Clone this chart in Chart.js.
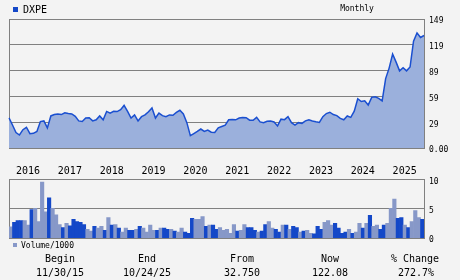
<!DOCTYPE html>
<html>
<head>
<meta charset="utf-8">
<script src="https://cdn.jsdelivr.net/npm/chart.js@4.4.0/dist/chart.umd.min.js"></script>
<style>
  html, body { margin: 0; padding: 0; background: #f3f3f3; }
  #wrap { position: relative; width: 460px; height: 280px; overflow: hidden;
          font-family: "DejaVu Sans Mono", monospace; color: #000; }
  canvas { position: absolute; left: 0; }
  .t { position: absolute; white-space: nowrap; }
  .t10 { font-size: 10px; line-height: 10px; }
  .t8  { font-size: 8px;  line-height: 8px; }
  .c { transform: translateX(-50%); }
  .sq { position: absolute; }
</style>
</head>
<body>
<div id="wrap">
  <canvas id="priceChart" width="460" height="180" style="top:0"></canvas>
  <canvas id="volumeChart" width="460" height="80" style="top:170px"></canvas>

  <div class="sq" style="left:13px;top:7px;width:5px;height:5px;background:#1448c8"></div>
  <div class="t t10" style="left:23px;top:4.5px">DXPE</div>
  <div class="t t8 c" style="left:357px;top:5.2px">Monthly</div>

  <div class="sq" style="left:13px;top:243px;width:4px;height:4px;background:#8798c8"></div>
  <div class="t t8" style="left:21px;top:241.5px">Volume/1000</div>

  <div class="t t10 c" style="left:60px;top:254.2px">Begin</div>
  <div class="t t10 c" style="left:147px;top:254.2px">End</div>
  <div class="t t10 c" style="left:242px;top:254.2px">From</div>
  <div class="t t10 c" style="left:330px;top:254.2px">Now</div>
  <div class="t t10 c" style="left:415px;top:254.2px">% Change</div>
  <div class="t t10 c" style="left:60px;top:268.2px">11/30/15</div>
  <div class="t t10 c" style="left:147px;top:268.2px">10/24/25</div>
  <div class="t t10 c" style="left:242px;top:268.2px">32.750</div>
  <div class="t t10 c" style="left:330px;top:268.2px">122.08</div>
  <div class="t t10 c" style="left:416px;top:268.2px">272.7%</div>
</div>

<script>
// ── Data ─────────────────────────────────────────
// monthly closes, Nov 2015 .. Oct 2025
const priceValues = [
  32.75, 25.0, 16.8, 14.1, 19.9, 22.5, 15.5, 15.9, 18.0, 28.7,
  29.4, 21.8, 34.8, 36.3, 37.0, 36.3, 38.2, 37.4, 37.0, 34.4,
  29.4, 28.7, 32.5, 32.8, 29.4, 30.6, 34.8, 30.6, 39.7, 37.8,
  39.8, 39.5, 41.6, 46.2, 39.7, 32.5, 35.9, 29.4, 34.0, 35.9,
  39.3, 43.5, 32.5, 37.8, 35.1, 34.0, 35.9, 35.5, 38.6, 40.9,
  37.0, 27.5, 13.4, 15.7, 18.0, 20.6, 18.0, 19.5, 17.2, 16.8,
  21.8, 23.3, 24.8, 30.6, 31.0, 30.6, 32.5, 33.2, 32.9, 30.2,
  30.0, 33.2, 28.3, 27.5, 29.0, 29.3, 28.3, 24.0, 31.3, 30.8,
  34.0, 27.5, 24.8, 27.5, 26.7, 29.4, 30.6, 29.4, 28.5, 27.8,
  34.0, 37.4, 38.8, 36.3, 35.1, 32.1, 30.6, 34.8, 33.2, 40.0,
  53.5, 50.4, 51.2, 46.6, 55.0, 55.5, 53.9, 51.2, 75.3, 86.7,
  102.0, 93.2, 83.7, 87.1, 83.7, 87.9, 116.0, 124.9, 120.0, 122.08
];

// volume (thousands), one bar per month Nov 2015 .. Sep 2025
const volumeValues = [
  1.9, 2.7, 3.0, 3.0, 3.0, 2.2, 4.9, 5.1, 2.8, 9.6,
  4.5, 6.9, 5.1, 4.0, 2.3, 1.8, 2.5, 2.1, 3.2, 2.8,
  2.7, 2.3, 1.5, 1.2, 2.0, 1.7, 2.0, 1.3, 3.5, 2.2,
  2.3, 1.7, 1.0, 1.7, 1.3, 1.3, 1.5, 2.0, 1.7, 1.0,
  2.2, 1.3, 1.3, 1.7, 1.7, 1.5, 1.5, 1.2, 1.0, 1.7,
  1.0, 0.8, 3.4, 3.2, 3.2, 3.7, 2.0, 2.2, 2.2, 1.5,
  1.8, 1.3, 1.5, 0.8, 2.3, 1.2, 1.3, 2.3, 1.8, 1.8,
  1.3, 1.0, 1.2, 2.3, 2.8, 1.7, 1.5, 1.0, 2.2, 2.2,
  1.5, 2.0, 1.8, 1.0, 1.2, 1.3, 0.8, 0.7, 2.0, 1.5,
  2.7, 3.0, 2.2, 2.5, 1.7, 0.8, 1.0, 1.5, 0.8, 1.0,
  2.5, 1.7, 2.5, 3.9, 2.0, 2.2, 1.5, 2.2, 2.5, 5.1,
  6.7, 3.4, 3.5, 2.2, 1.8, 2.8, 4.7, 3.5, 3.2
];

// 1 = up month (light bar), 0 = down month (dark bar)
const volumeUp = [
  1,0,0,0,1,1,0,1,1,1,  1,0,1,1,1,0,1,0,0,0,
  0,0,1,1,0,1,1,0,1,0,  1,0,1,1,0,0,1,0,1,1,
  1,1,0,1,0,0,1,0,1,1,  0,0,0,1,1,1,0,1,0,0,
  1,1,1,1,1,0,1,1,0,0,  0,1,0,0,1,1,0,0,1,0,
  1,0,0,1,0,1,1,0,0,0,  1,1,1,0,0,0,0,1,0,1,
  1,0,1,0,1,1,0,0,1,1,  1,0,0,1,0,1,1,1,0
];

const priceTicks  = [0, 29, 59, 89, 119, 149];
const volumeTicks = [0, 5, 10];

// month categories starting Nov 2015
const months = [];
for (let k = 0; k < priceValues.length; k++) {
    const m = (10 + k) % 12;
    const y = 2015 + Math.floor((10 + k) / 12);
    months.push(`${y}-${String(m + 1).padStart(2, '0')}`);
}

// ── Styles ───────────────────────────────────────
const GRID  = '#808080';
const LINE  = '#1a4fd0';
const FILL  = '#9bb0dc';
const DARK  = '#1448c8';
const LIGHT = '#8798c8';
const FONT  = 'DejaVu Sans Mono';

Chart.defaults.font.family = FONT;
Chart.defaults.color = '#000';

// invisible left axis, only used for the left frame line
const leftFrame = {
    position: 'left',
    display: true,
    grid: { display: false },
    border: { display: true, color: GRID, width: 1 },
    ticks: { display: false },
    afterFit: s => { s.width = 0; }
};

// ── Price chart ──────────────────────────────────
new Chart(document.getElementById('priceChart'), {
    type: 'line',
    data: {
        labels: months,
        datasets: [{
            data: priceValues,
            borderColor: LINE,
            borderWidth: 1.5,
            backgroundColor: FILL,
            fill: 'origin',
            pointRadius: 0,
            tension: 0
        }]
    },
    options: {
        responsive: false,
        animation: false,
        devicePixelRatio: 1,
        layout: { padding: { left: 9, top: 19, right: 0, bottom: 0 } },
        plugins: { legend: { display: false }, tooltip: { enabled: false } },
        scales: {
            x: {
                type: 'category',
                offset: false,
                grid: { display: false },
                border: { display: true, color: GRID },
                ticks: {
                    autoSkip: false,
                    maxRotation: 0,
                    minRotation: 0,
                    align: 'start',
                    padding: 9,
                    font: { size: 10 },
                    callback: (v, i) => months[i].endsWith('-01') ? months[i].slice(0, 4) : null
                },
                afterFit: s => { s.height = 32; }
            },
            yl: leftFrame,
            y: {
                position: 'right',
                min: 0,
                max: 149,
                grid: { color: GRID, drawTicks: false },
                border: { display: true, color: GRID },
                afterBuildTicks: s => { s.ticks = priceTicks.map(v => ({ value: v })); },
                ticks: {
                    padding: 5,
                    labelOffset: 2,
                    font: { size: 8 },
                    callback: v => v === 0 ? '0.00' : String(v)
                },
                afterFit: s => { s.width = 36; }
            }
        }
    }
});

// ── Volume chart ─────────────────────────────────
new Chart(document.getElementById('volumeChart'), {
    type: 'bar',
    data: {
        labels: months.slice(0, volumeValues.length),
        datasets: [{
            data: volumeValues,
            backgroundColor: volumeUp.map(u => u ? LIGHT : DARK),
            borderWidth: 0,
            barPercentage: 1,
            categoryPercentage: 1
        }]
    },
    options: {
        responsive: false,
        animation: false,
        devicePixelRatio: 1,
        layout: { padding: { left: 9, top: 9, right: 0, bottom: 12 } },
        plugins: { legend: { display: false }, tooltip: { enabled: false } },
        scales: {
            x: { display: false, offset: true },
            yl: leftFrame,
            y: {
                position: 'right',
                min: 0,
                max: 10,
                grid: { color: GRID, drawTicks: false },
                border: { display: true, color: GRID },
                afterBuildTicks: s => { s.ticks = volumeTicks.map(v => ({ value: v })); },
                ticks: {
                    padding: 5,
                    labelOffset: 2,
                    font: { size: 8 }
                },
                afterFit: s => { s.width = 36; }
            }
        }
    }
});
</script>
</body>
</html>
